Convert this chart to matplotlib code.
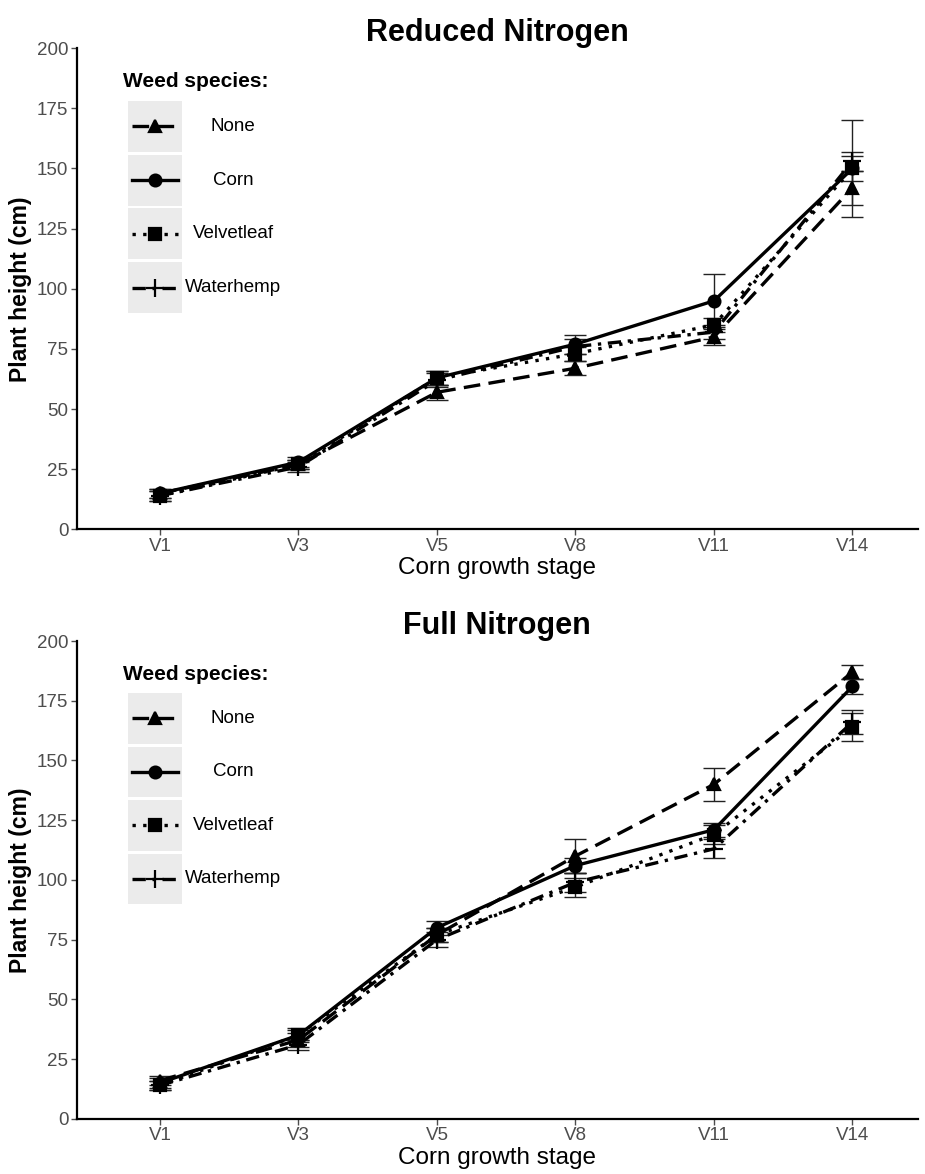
#! /usr/bin/env python3
import numpy as np
import matplotlib
matplotlib.use("Agg")
import matplotlib.pyplot as plt
from matplotlib.lines import Line2D
from matplotlib.patches import Rectangle

plt.rcParams["font.family"] = ["Liberation Sans", "DejaVu Sans"]

stages = ["V1", "V3", "V5", "V8", "V11", "V14"]
species = ["None", "Corn", "Velvetleaf", "Waterhemp"]

# Reduced nitrogen: mean plant height (cm) and SE
reduced_none = [15, 27, 57, 67, 80, 142]
reduced_corn = [15, 28, 63, 77, 95, 150]
reduced_velvet = [14, 27, 63, 73, 85, 150]
reduced_water = [14, 26, 62, 76, 82, 153]
reduced_none_se = [2, 2, 3, 3, 3.5, 7]
reduced_corn_se = [2, 2, 3, 4, 11, 20]
reduced_velvet_se = [2, 2, 3, 3, 3, 5]
reduced_water_se = [2, 2, 3, 3, 3, 4]

# Full nitrogen
full_none = [16, 33, 77, 110, 140, 187]
full_corn = [15, 35, 80, 106, 121, 181]
full_velvet = [14, 35, 77, 97, 119, 164]
full_water = [14, 31, 75, 99, 113, 166]
full_none_se = [2, 3, 3, 7, 7, 3]
full_corn_se = [2, 2, 3, 3, 3, 3]
full_velvet_se = [2, 3, 3, 4, 4, 6]
full_water_se = [2, 2, 3, 4, 4, 5]

styles = {
    "None": dict(ls=(0, (5, 2.5)), marker="^", ms=9),
    "Corn": dict(ls="-", marker="o", ms=8.5),
    "Velvetleaf": dict(ls=(0, (1, 2.2)), marker="s", ms=8.5),
    "Waterhemp": dict(ls=(0, (4, 2, 1, 2)), marker="+", ms=13),
}


def panel(ax, title, means, ses):
    x = np.arange(len(stages))
    for sp, m, s in zip(species, means, ses):
        st = styles[sp]
        ax.errorbar(x, m, yerr=s, fmt="none", ecolor="#222222", elinewidth=1,
                    capsize=8, capthick=1, zorder=2)
        ax.plot(x, m, color="black", lw=2.4, ls=st["ls"], marker=st["marker"],
                ms=st["ms"], mew=1.6, zorder=3)
    ax.set_xlim(-0.6, 5.47)
    ax.set_ylim(0, 200)
    ax.set_xticks(x)
    ax.set_xticklabels(stages)
    ax.set_yticks([0, 25, 50, 75, 100, 125, 150, 175, 200])
    ax.tick_params(colors="#4d4d4d", labelsize=13.5, length=4, width=1, pad=2)
    for sd in ["top", "right"]:
        ax.spines[sd].set_visible(False)
    for sd in ["left", "bottom"]:
        ax.spines[sd].set_linewidth(1.6)
    ax.set_title(title, fontsize=22, fontweight="bold", pad=4)
    ax.set_ylabel("Plant height (cm)", fontsize=16.5, fontweight="bold")
    ax.set_xlabel("Corn growth stage", fontsize=17.5)
    ax.yaxis.set_label_coords(-0.053, 0.5)
    ax.xaxis.set_label_coords(0.5, -0.058)

    # legend drawn like the ggplot one (grey key boxes, centred labels)
    tr = ax.transAxes
    ax.text(0.055, 0.93, "Weed species:", transform=tr, fontsize=15,
            fontweight="bold", va="center", ha="left")
    box_h = 0.112
    for i, sp in enumerate(species):
        yc = 0.838 - i * box_h
        ax.add_patch(Rectangle((0.061, yc - box_h / 2 + 0.003), 0.064, box_h - 0.006,
                               transform=tr, facecolor="#ebebeb", edgecolor="none",
                               zorder=1, clip_on=False))
        st = styles[sp]
        ax.add_line(Line2D([0.066, 0.12], [yc, yc], transform=tr, color="black",
                           lw=2.4, ls=st["ls"], zorder=4))
        ax.add_line(Line2D([0.093], [yc], transform=tr, color="black",
                           marker=st["marker"], ms=st["ms"], mew=1.6, zorder=4))
        ax.text(0.186, yc, sp, transform=tr, fontsize=13.5, ha="center",
                va="center", color="black")


def main():
    fig = plt.figure(figsize=(9.25, 11.74), dpi=100)
    ax1 = fig.add_axes([0.083, 0.549, 0.909, 0.41])
    ax2 = fig.add_axes([0.083, 0.047, 0.909, 0.407])
    panel(ax1, "Reduced Nitrogen",
          [reduced_none, reduced_corn, reduced_velvet, reduced_water],
          [reduced_none_se, reduced_corn_se, reduced_velvet_se, reduced_water_se])
    panel(ax2, "Full Nitrogen",
          [full_none, full_corn, full_velvet, full_water],
          [full_none_se, full_corn_se, full_velvet_se, full_water_se])
    fig.savefig("out.png", dpi=100)


if __name__ == "__main__":
    main()
